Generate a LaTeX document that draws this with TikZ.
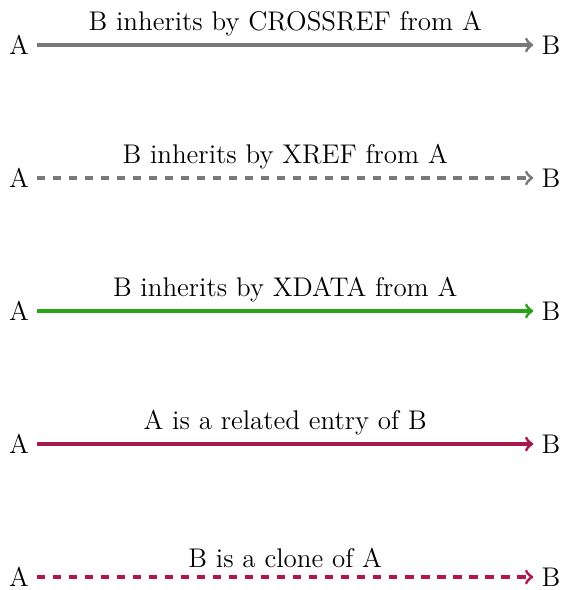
\documentclass[tikz,border=0pt]{standalone}
\definecolor{xgray}{RGB}{120,120,120}
\definecolor{xgreen}{RGB}{42,162,24}
\definecolor{xrel}{RGB}{165,25,70}
\definecolor{xclone}{RGB}{180,22,72}
\begin{document}
\begin{tikzpicture}[
  font=\fontsize{11.55}{13.9}\selectfont,
  ent/.style={inner sep=3.33pt},
  rel/.style={->, line width=1.3pt},
  dsh/.style={dash pattern=on 3.5pt off 3.35pt},
  lab/.style={midway, above}
]
\useasboundingbox (-8.1pt,19.25pt) rectangle (232.3pt,-8cm-5.56pt);
\foreach \i/\c/\d/\t in {0/xgray/solid/{B inherits by CROSSREF from A},
                          1/xgray/dsh/{B inherits by XREF from A},
                          2/xgreen/solid/{B inherits by XDATA from A},
                          3/xrel/solid/{A is a related entry of B},
                          4/xclone/dsh/{B is a clone of A}}{
  \node[ent] (a\i) at (0,-2*\i) {A};
  \node[ent] (b\i) at (8,-2*\i) {B};
  \draw[rel, \c, \d] (a\i) -- node[lab, text=black] {\t} (b\i);
}
\end{tikzpicture}
\end{document}
